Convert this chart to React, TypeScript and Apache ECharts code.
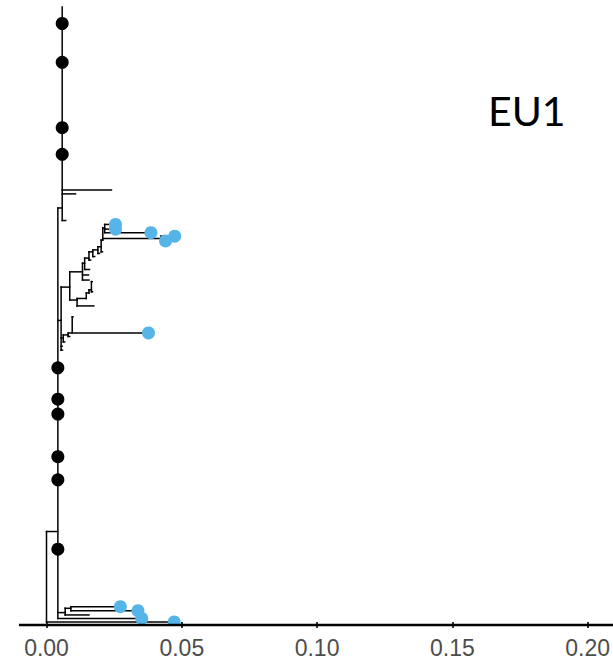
import React, { useEffect, useRef } from "react";
import * as echarts from "echarts";

// x axis ticks (substitutions per site)
const xTicks = [0, 0.05, 0.1, 0.15, 0.2];

// Tips: [distance, row] (row 0 = bottom tip)
const blackTips: number[][] = [
  [0.0058, 152.8], [0.0058, 142.9], [0.0058, 126.2], [0.0058, 119.4],
  [0.0042, 64.9], [0.0042, 56.9], [0.0042, 53.1], [0.0042, 42.2], [0.0042, 36.3], [0.0042, 18.6],
];
const blueTips: number[][] = [
  [0.0255, 101.5], [0.0255, 100.3], [0.0386, 99.4], [0.0474, 98.5], [0.044, 97.3],
  [0.0377, 73.8], [0.0273, 3.9], [0.0338, 2.9], [0.0352, 0.9], [0.0472, 0],
];

// Horizontal branches: [xStart, xEnd, row]
const hBranches: number[][] = [
  [0, 0.0042, 23.1], [0, 0.0472, 0], [0.0042, 0.0352, 0.9], [0.0042, 0.0069, 2.4],
  [0.0069, 0.0157, 1.8], [0.0069, 0.009, 3.5], [0.009, 0.0273, 3.9], [0.009, 0.0338, 2.9],
  [0.0042, 0.0058, 105.7], [0.0058, 0.0071, 102.5], [0.0058, 0.024, 110.3], [0.0058, 0.0107, 109.3],
  [0.0042, 0.0054, 77.0], [0.0054, 0.0086, 85.5], [0.0086, 0.0133, 89.4], [0.0086, 0.0113, 82.2],
  [0.0133, 0.0157, 87.3], [0.0133, 0.0155, 88.6], [0.0133, 0.0141, 91.6], [0.0141, 0.0159, 90.0],
  [0.0141, 0.0157, 92.9], [0.0157, 0.0163, 92.4], [0.0157, 0.0171, 94.5], [0.0171, 0.0178, 93.3],
  [0.0171, 0.019, 95.0], [0.019, 0.0196, 94.1], [0.019, 0.0202, 95.8], [0.0202, 0.0207, 94.5],
  [0.0202, 0.0208, 97.5], [0.0208, 0.0215, 100.6], [0.0208, 0.0423, 97.9],
  [0.0215, 0.0255, 101.5], [0.0215, 0.0255, 100.3], [0.0215, 0.0386, 99.4],
  [0.0423, 0.0474, 98.5], [0.0423, 0.044, 97.3],
  [0.0113, 0.0175, 80.7], [0.0113, 0.0147, 82.6], [0.0147, 0.0157, 84.0], [0.0157, 0.0166, 84.8],
  [0.0166, 0.0169, 86.9], [0.0166, 0.017, 84.3],
  [0.0054, 0.0062, 72.5], [0.0062, 0.0067, 71.5], [0.0062, 0.008, 73.3], [0.008, 0.0086, 72.9],
  [0.008, 0.0377, 73.8], [0.0095, 0.0098, 77.9], [0.0054, 0.0059, 69.4], [0.0054, 0.0058, 70.4],
];

// Vertical connectors: [x, rowLow, rowHigh]
const vBranches: number[][] = [
  [0, 0, 23.1], [0.0042, 0.9, 105.7], [0.0069, 1.8, 3.5], [0.009, 2.9, 3.9],
  [0.0058, 102.5, 157.0], [0.0054, 69.4, 85.5], [0.0086, 82.2, 89.4], [0.0133, 87.3, 91.6],
  [0.0141, 90.0, 92.9], [0.0157, 92.4, 94.5], [0.0171, 93.3, 95.0], [0.019, 94.1, 95.8],
  [0.0202, 94.5, 97.5], [0.0208, 97.5, 100.6], [0.0215, 99.4, 101.5], [0.0423, 97.3, 98.5],
  [0.0113, 80.7, 82.6], [0.0147, 82.6, 84.0], [0.0157, 84.0, 84.8], [0.0166, 84.3, 86.9],
  [0.0062, 71.5, 73.3], [0.008, 72.9, 73.8], [0.0095, 73.8, 77.9],
];

const panelLabel = "EU1";

export default function App() {
  const ref = useRef<HTMLDivElement>(null);
  useEffect(() => {
    if (!ref.current) return;
    const chart = echarts.init(ref.current, null, { renderer: "svg" });
    const segs = [
      ...hBranches.map((b) => [b[0], b[2], b[1], b[2]]),
      ...vBranches.map((b) => [b[0], b[1], b[0], b[2]]),
    ];
    const dotSeries = (data: number[][], color: string) => ({
      type: "custom",
      clip: true,
      z: 3,
      encode: { x: 0, y: 1 },
      data,
      renderItem: (_p: any, api: any) => {
        const c = api.coord([api.value(0), api.value(1)]);
        return { type: "circle", shape: { cx: c[0], cy: c[1], r: 6.5 }, style: { fill: color } };
      },
    });
    chart.setOption({
      animation: false,
      backgroundColor: "#fff",
      grid: { left: 46.5, width: 546, top: 0, bottom: 36 },
      xAxis: {
        type: "value",
        min: xTicks[0],
        max: xTicks[xTicks.length - 1],
        interval: 0.05,
        axisLine: { show: false },
        axisTick: { show: true, length: 6, lineStyle: { color: "#333", width: 2 } },
        axisLabel: {
          formatter: (v: number) => v.toFixed(2),
          color: "#4D4D4D",
          fontSize: 23,
          fontFamily: "Liberation Sans",
          margin: 11,
        },
        splitLine: { show: false },
      },
      yAxis: { type: "value", min: -0.766, max: 158.8, show: false },
      series: [
        {
          type: "custom",
          clip: false,
          z: 2,
          encode: { x: [0, 2], y: [1, 3] },
          data: segs,
          renderItem: (_p: any, api: any) => {
            const a = api.coord([api.value(0), api.value(1)]);
            const b = api.coord([api.value(2), api.value(3)]);
            return {
              type: "line",
              shape: { x1: a[0], y1: a[1], x2: b[0], y2: b[1] },
              style: { stroke: "#000", lineWidth: 1.5, lineCap: "square" },
            };
          },
        },
        dotSeries(blackTips, "#000000"),
        dotSeries(blueTips, "#56B4E9"),
      ],
      graphic: [
        {
          type: "line",
          z: 100,
          shape: { x1: 19, y1: 625, x2: 613, y2: 625 },
          style: { stroke: "#000", lineWidth: 2.5 },
        },
        {
          type: "text",
          x: 488,
          y: 110,
          style: {
            text: panelLabel,
            fontSize: 41,
            fontFamily: "Lato",
            fill: "#000",
            align: "left",
            verticalAlign: "middle",
          },
        },
      ],
    });
    return () => chart.dispose();
  }, []);
  return <div ref={ref} style={{ position: "fixed", left: 0, top: 0, width: 613, height: 661 }} />;
}
